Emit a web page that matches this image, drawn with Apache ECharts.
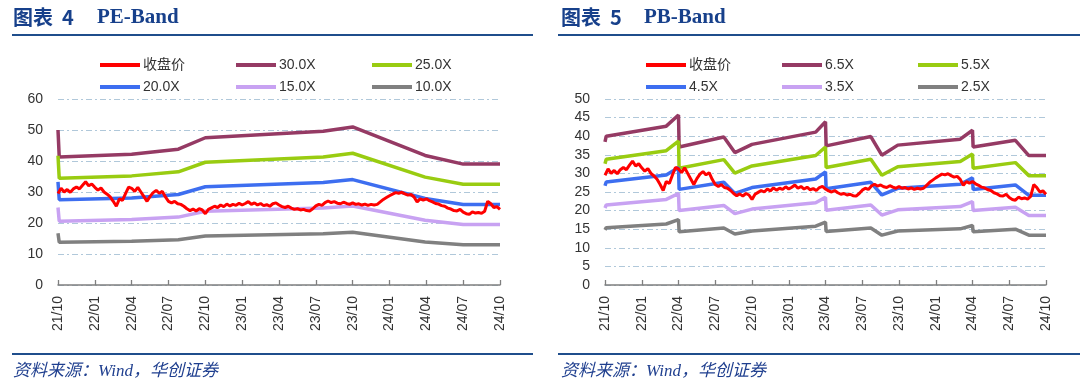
<!DOCTYPE html>
<html><head><meta charset="utf-8">
<script src="https://cdn.jsdelivr.net/npm/echarts@6/dist/echarts.min.js"></script>
<style>html,body{margin:0;padding:0;background:#fff}#c{width:1080px;height:388px}</style>
</head><body><div id="c"></div>
<script>
// x positions are months counted from 2021/10
const xTickLabels = ['21/10','22/01','22/04','22/07','22/10','23/01','23/04','23/07','23/10','24/01','24/04','24/07','24/10'];
const priceStep = 0.25; // months between price samples
const closePrice = [
 29.5,31.2,30.0,30.8,29.9,31.0,31.6,31.0,32.2,33.3,32.0,32.6,31.5,
 30.6,31.3,30.0,29.3,28.4,27.0,25.4,27.8,27.3,29.5,31.6,31.2,
 30.2,31.5,30.0,28.5,27.0,28.6,29.8,30.5,29.6,30.2,28.4,27.0,
 26.5,27.0,26.2,26.0,25.4,24.6,24.0,24.5,23.9,24.6,24.2,23.0,
 24.4,24.9,25.4,25.0,25.8,25.3,26.1,25.5,26.0,25.7,26.4,25.8,
 26.3,26.9,26.0,26.5,25.8,26.3,25.6,25.9,25.4,26.2,26.5,25.8,
 25.3,25.0,25.4,24.8,24.4,24.6,24.2,24.4,24.0,23.9,24.6,25.5,
 26.0,25.7,26.6,27.1,26.6,26.9,26.4,26.2,26.7,26.3,26.0,26.5,
 26.0,26.2,25.8,26.1,25.7,26.0,25.8,26.0,26.8,27.6,28.2,28.8,
 29.3,29.8,29.6,29.9,29.4,29.0,29.2,28.4,26.8,27.8,27.4,27.8,
 27.2,26.8,26.3,26.1,25.6,25.4,24.8,24.5,24.0,23.9,24.4,23.5,
 23.0,22.8,23.6,23.2,23.4,23.1,23.8,27.0,26.2,25.0,25.3,24.4
];
const peMonths = [0, 0.1, 6, 9.8, 12, 21.6, 24, 29.9, 33, 36];
const pe30 = [50.0, 41.3, 42.2, 43.8, 47.5, 49.6, 51.0, 41.8, 39.0, 39.0];
const pe25 = [41.7, 34.4, 35.2, 36.5, 39.6, 41.3, 42.5, 34.8, 32.5, 32.5];
const pe20 = [33.3, 27.5, 28.1, 29.2, 31.7, 33.1, 34.0, 27.9, 26.0, 26.0];
const pe15 = [25.0, 20.6, 21.1, 21.9, 23.8, 24.8, 25.5, 20.9, 19.5, 19.5];
const pe10 = [16.7, 13.8, 14.1, 14.6, 15.8, 16.5, 17.0, 13.9, 13.0, 13.0];

const pbMonths = [0, 0.1, 5.0, 6.0, 6.05, 9.7, 10.6, 12.0, 17.2, 18.0, 18.05, 21.7, 22.6, 23.9, 29.0, 30.0, 30.05, 33.5, 34.6, 36];
const pb65 = [38.5, 40.0, 42.7, 45.7, 37.1, 39.8, 35.6, 37.8, 41.1, 43.9, 37.4, 39.9, 34.9, 37.6, 39.2, 41.6, 37.1, 38.9, 34.8, 34.8];
const pb55 = [32.6, 33.8, 36.1, 38.7, 31.4, 33.7, 30.1, 32.0, 34.8, 37.1, 31.6, 33.8, 29.5, 31.8, 33.2, 35.2, 31.4, 32.9, 29.4, 29.4];
const pb45 = [26.7, 27.7, 29.6, 31.6, 25.7, 27.6, 24.6, 26.2, 28.5, 30.4, 25.9, 27.6, 24.2, 26.0, 27.1, 28.8, 25.7, 26.9, 24.1, 24.1];
const pb35 = [20.7, 21.5, 23.0, 24.6, 20.0, 21.4, 19.2, 20.4, 22.1, 23.6, 20.1, 21.5, 18.8, 20.2, 21.1, 22.4, 20.0, 20.9, 18.7, 18.7];
const pb25 = [14.8, 15.4, 16.4, 17.6, 14.3, 15.3, 13.7, 14.5, 15.8, 16.9, 14.4, 15.3, 13.4, 14.5, 15.1, 16.0, 14.3, 15.0, 13.4, 13.4];

const peNames = ['收盘价','30.0X','25.0X','20.0X','15.0X','10.0X'];
const pbNames = ['收盘价','6.5X','5.5X','4.5X','3.5X','2.5X'];
const colors = ['#ff0000','#953a64','#99cc11','#3d6ef0','#c8a2f2','#808080'];

const pricePairs = closePrice.map((v, i) => [i * priceStep, v]);
const zip = (xs, ys) => xs.map((x, i) => [x, ys[i]]);

const FONT = '"Liberation Sans", Arial, "Noto Sans CJK SC", sans-serif';
const labelColor = '#333';

function makeLegends(names, lefts) {
  const cols = [[names[0], names[3]], [names[1], names[4]], [names[2], names[5]]];
  return cols.map((d, k) => ({
    data: d, orient: 'vertical', left: lefts[k], top: 52, itemGap: 6,
    icon: 'rect', itemWidth: 40, itemHeight: 4, selectedMode: false,
    textStyle: {fontSize: 14, fontFamily: FONT, color: labelColor, lineHeight: 16, padding: [0,0,0,-2]}
  }));
}

function xAxisCfg(gi) {
  return {
    type: 'value', gridIndex: gi, min: 0, max: 36, interval: 3,
    axisLine: {show: true, lineStyle: {color: '#7f7f7f', width: 1.5}},
    axisTick: {show: true, inside: true, length: 5, lineStyle: {color: '#7f7f7f', width: 1.3}},
    splitLine: {show: false},
    axisLabel: {rotate: 90, margin: 11, fontSize: 14, fontFamily: FONT, color: labelColor,
      formatter: v => xTickLabels[Math.round(v / 3)] || ''}
  };
}
function yAxisCfg(gi, max, interval) {
  return {
    type: 'value', gridIndex: gi, min: 0, max: max, interval: interval,
    axisLine: {show: false}, axisTick: {show: false},
    axisLabel: {fontSize: 14, fontFamily: FONT, color: labelColor, margin: 15},
    splitLine: {show: true, lineStyle: {color: '#b0c8da', width: 1, type: [6, 3, 2, 3]}}
  };
}
function bandSeries(name, idx, xs, ys, gi) {
  return {name, type: 'line', xAxisIndex: gi, yAxisIndex: gi, data: zip(xs, ys),
    symbol: 'none', lineStyle: {color: colors[idx], width: 3.5}, itemStyle: {color: colors[idx]}, z: 2};
}
function priceSeries(gi) {
  return {name: '收盘价', type: 'line', xAxisIndex: gi, yAxisIndex: gi, data: pricePairs,
    symbol: 'none', lineStyle: {color: colors[0], width: 3}, itemStyle: {color: colors[0]}, z: 3};
}

const titleColor = '#17408b';
const graphic = [
  {type: 'text', left: 13, top: 7, style: {text: '图表  4', font: 'bold 20px "Noto Sans CJK SC", sans-serif', fill: titleColor}},
  {type: 'text', left: 97, top: 7, style: {text: 'PE-Band', font: 'bold 21px "Liberation Serif", serif', fill: titleColor}},
  {type: 'text', left: 561, top: 7, style: {text: '图表  5', font: 'bold 20px "Noto Sans CJK SC", sans-serif', fill: titleColor}},
  {type: 'text', left: 644, top: 7, style: {text: 'PB-Band', font: 'bold 21px "Liberation Serif", serif', fill: titleColor}},
  {type: 'line', shape: {x1: 12, y1: 35, x2: 533, y2: 35}, style: {stroke: '#1f4e8c', lineWidth: 2}},
  {type: 'line', shape: {x1: 558, y1: 35, x2: 1080, y2: 35}, style: {stroke: '#1f4e8c', lineWidth: 2}},
  {type: 'line', shape: {x1: 12, y1: 354, x2: 533, y2: 354}, style: {stroke: '#1f4e8c', lineWidth: 2}},
  {type: 'line', shape: {x1: 558, y1: 354, x2: 1080, y2: 354}, style: {stroke: '#1f4e8c', lineWidth: 2}},
  {type: 'text', left: 13, top: 363, style: {text: '资料来源：Wind，华创证券', font: 'italic 17px "Liberation Serif", "Noto Sans CJK SC", serif', fill: '#1f3f8f'}},
  {type: 'text', left: 561, top: 363, style: {text: '资料来源：Wind，华创证券', font: 'italic 17px "Liberation Serif", "Noto Sans CJK SC", serif', fill: '#1f3f8f'}}
];

const chart = echarts.init(document.getElementById('c'), null, {renderer: 'canvas'});
chart.setOption({
  animation: false,
  backgroundColor: '#fff',
  graphic,
  legend: [].concat(makeLegends(peNames, [95, 231, 367]), makeLegends(pbNames, [641, 777, 913])),
  grid: [
    {left: 58, right: 580, top: 99, bottom: 103},
    {left: 605, right: 34, top: 99, bottom: 103}
  ],
  xAxis: [xAxisCfg(0), xAxisCfg(1)],
  yAxis: [yAxisCfg(0, 60, 10), yAxisCfg(1, 50, 5)],
  series: [
    bandSeries(peNames[1], 1, peMonths, pe30, 0),
    bandSeries(peNames[2], 2, peMonths, pe25, 0),
    bandSeries(peNames[3], 3, peMonths, pe20, 0),
    bandSeries(peNames[4], 4, peMonths, pe15, 0),
    bandSeries(peNames[5], 5, peMonths, pe10, 0),
    priceSeries(0),
    bandSeries(pbNames[1], 1, pbMonths, pb65, 1),
    bandSeries(pbNames[2], 2, pbMonths, pb55, 1),
    bandSeries(pbNames[3], 3, pbMonths, pb45, 1),
    bandSeries(pbNames[4], 4, pbMonths, pb35, 1),
    bandSeries(pbNames[5], 5, pbMonths, pb25, 1),
    priceSeries(1)
  ]
});
</script></body></html>
